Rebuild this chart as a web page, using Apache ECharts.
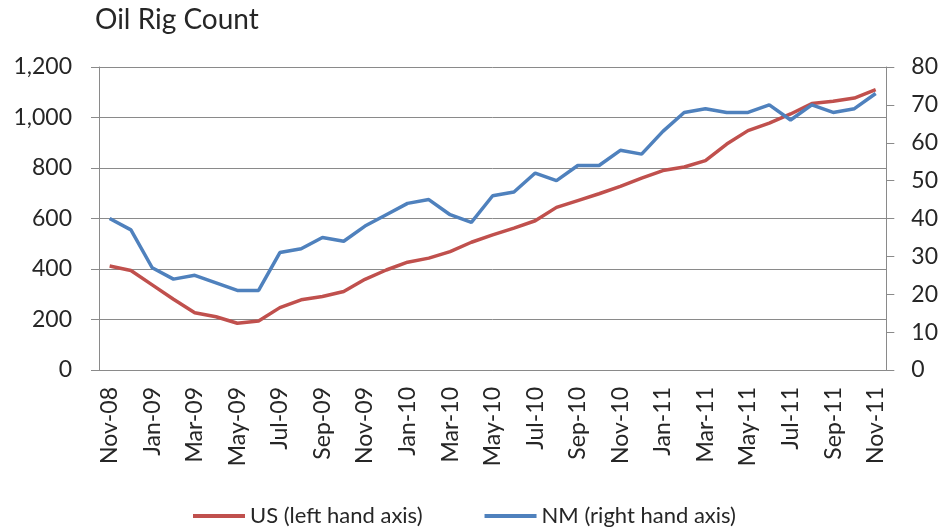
<!DOCTYPE html>
<html>
<head>
<meta charset="utf-8">
<script src="https://cdn.jsdelivr.net/npm/echarts@6/dist/echarts.min.js"></script>
<style>
  html, body { margin: 0; padding: 0; background: #fff; }
  #chart { width: 941px; height: 527px; }
</style>
</head>
<body>
<div id="chart"></div>
<script>
// monthly rig counts, Nov-08 .. Nov-11
var months = ['Nov-08','Dec-08','Jan-09','Feb-09','Mar-09','Apr-09','May-09','Jun-09','Jul-09','Aug-09',
  'Sep-09','Oct-09','Nov-09','Dec-09','Jan-10','Feb-10','Mar-10','Apr-10','May-10','Jun-10',
  'Jul-10','Aug-10','Sep-10','Oct-10','Nov-10','Dec-10','Jan-11','Feb-11','Mar-11','Apr-11',
  'May-11','Jun-11','Jul-11','Aug-11','Sep-11','Oct-11','Nov-11'];
var usRigs = [412,394,337,280,227,211,185,194,247,278,291,311,359,396,427,443,469,506,535,562,
  591,644,671,698,727,760,790,804,829,895,948,978,1014,1055,1064,1077,1110];
var nmRigs = [40,37,27,24,25,23,21,21,31,32,35,34,38,41,44,45,41,39,46,47,
  52,50,54,54,58,57,63,68,69,68,68,70,66,70,68,69,73];

var font = 'Lato, "Open Sans", sans-serif';
var axisGray = '#8a8a8a';
var textColor = '#262626';

var chart = echarts.init(document.getElementById('chart'));
chart.setOption({
  animation: false,
  title: {
    text: 'Oil Rig Count',
    left: 90, top: 1,
    textStyle: { fontFamily: font, fontWeight: 'normal', fontSize: 28, color: textColor }
  },
  grid: { left: 99, right: 54, top: 67, bottom: 157 },
  legend: {
    top: 500, left: 188,
    icon: 'rect', itemWidth: 52, itemHeight: 4, itemGap: 62,
    textStyle: { fontFamily: font, fontSize: 22, color: textColor },
    data: ['US (left hand axis)', 'NM (right hand axis)']
  },
  xAxis: {
    type: 'category',
    data: months,
    boundaryGap: true,
    axisLine: { lineStyle: { color: axisGray } },
    axisTick: { interval: 1, length: 8, lineStyle: { color: axisGray } },
    axisLabel: { interval: 1, rotate: 90, margin: 17, fontFamily: font, fontSize: 23, color: textColor }
  },
  yAxis: [{
    type: 'value', min: 0, max: 1200, interval: 200,
    axisLine: { show: true, lineStyle: { color: axisGray } },
    axisTick: { show: true, length: 8, lineStyle: { color: axisGray } },
    splitLine: { lineStyle: { color: axisGray } },
    axisLabel: {
      margin: 27, fontFamily: font, fontSize: 23, color: textColor,
      formatter: function (v) { return v.toLocaleString('en-US'); }
    }
  }, {
    type: 'value', min: 0, max: 80, interval: 10,
    axisLine: { show: true, lineStyle: { color: axisGray } },
    axisTick: { show: true, length: 8, lineStyle: { color: axisGray } },
    splitLine: { show: false },
    axisLabel: { margin: 25, fontFamily: font, fontSize: 23, color: textColor }
  }],
  series: [{
    name: 'US (left hand axis)',
    type: 'line', yAxisIndex: 0,
    data: usRigs,
    showSymbol: false,
    itemStyle: { color: '#C0504D' },
    lineStyle: { color: '#C0504D', width: 3.5 }
  }, {
    name: 'NM (right hand axis)',
    type: 'line', yAxisIndex: 1,
    data: nmRigs,
    showSymbol: false,
    itemStyle: { color: '#4F81BD' },
    lineStyle: { color: '#4F81BD', width: 3.5 }
  }]
});
</script>
</body>
</html>
